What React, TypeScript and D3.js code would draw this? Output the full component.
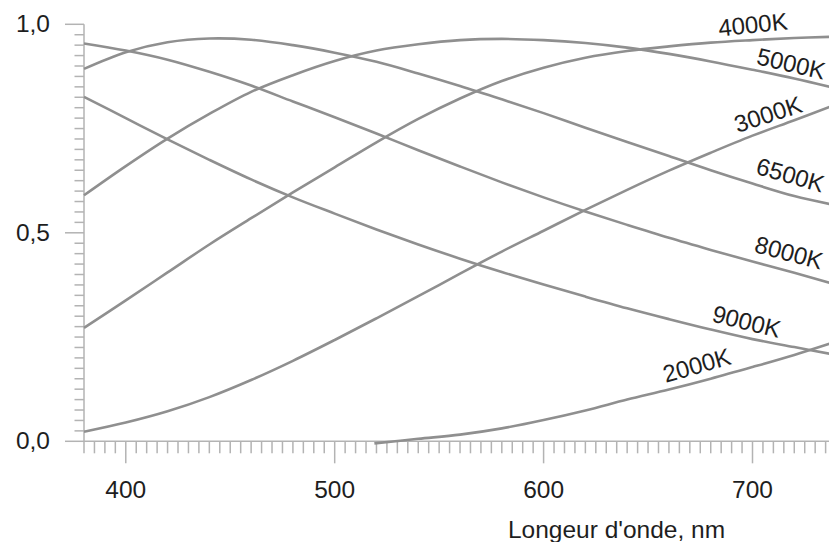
import React from "react";
import * as d3 from "d3";

// ---- data ----
const wavelengths = [380, 400, 420, 440, 460, 480, 500, 520, 540, 560, 580, 600, 620, 640, 660, 680, 700, 720, 737];
const k3000 = [0.023, 0.045, 0.072, 0.106, 0.147, 0.193, 0.243, 0.295, 0.348, 0.402, 0.455, 0.505, 0.555, 0.603, 0.649, 0.692, 0.733, 0.770, 0.802];
const k4000 = [0.272, 0.338, 0.405, 0.472, 0.535, 0.597, 0.657, 0.717, 0.773, 0.822, 0.864, 0.896, 0.920, 0.936, 0.947, 0.956, 0.962, 0.967, 0.970];
const k5000 = [0.590, 0.660, 0.726, 0.785, 0.838, 0.878, 0.912, 0.937, 0.952, 0.962, 0.965, 0.962, 0.955, 0.944, 0.929, 0.911, 0.891, 0.870, 0.850];
const k6500 = [0.893, 0.933, 0.957, 0.966, 0.963, 0.950, 0.932, 0.910, 0.882, 0.852, 0.820, 0.787, 0.752, 0.718, 0.684, 0.650, 0.618, 0.588, 0.569];
const k8000 = [0.954, 0.937, 0.915, 0.886, 0.853, 0.815, 0.777, 0.738, 0.698, 0.659, 0.621, 0.585, 0.551, 0.519, 0.488, 0.459, 0.431, 0.404, 0.380];
const k9000 = [0.826, 0.775, 0.724, 0.675, 0.628, 0.585, 0.546, 0.508, 0.472, 0.438, 0.406, 0.376, 0.347, 0.319, 0.293, 0.268, 0.245, 0.226, 0.210];
const wavelengths2000 = [519, 540, 560, 580, 600, 620, 640, 660, 680, 700, 720, 737];
const k2000 = [-0.005, 0.006, 0.016, 0.031, 0.051, 0.074, 0.100, 0.124, 0.150, 0.178, 0.207, 0.234];

const seriesNames = ["2000K", "3000K", "4000K", "5000K", "6500K", "8000K", "9000K"];
// label anchor (wavelength, value) and rotation for each series name
const labelNm = [673.3, 707.4, 700.2, 718.6, 718.2, 717.5, 697.2];
const labelVal = [0.183, 0.785, 1.0, 0.906, 0.639, 0.453, 0.288];
const labelAngle = [-16, -18, -6, 13, 16, 15, 14];

const xMajorTicks = [400, 500, 600, 700];
const yMajorTicks = [0, 0.5, 1.0];
const yTickLabels = ["0,0", "0,5", "1,0"];
const xTitle = "Longeur d'onde, nm";

// ---- layout ----
const W = 829;
const H = 542;

export default function App() {
  const x = d3.scaleLinear().domain([380, 700]).range([84, 752.5]);
  const y = d3.scaleLinear().domain([0, 1]).range([441.3, 24.3]);

  const line = d3
    .line<[number, number]>()
    .x((d) => x(d[0]))
    .y((d) => y(d[1]))
    .curve(d3.curveCatmullRom.alpha(0.5));

  const series: [number, number][][] = [
    wavelengths2000.map((w, i) => [w, k2000[i]] as [number, number]),
    ...[k3000, k4000, k5000, k6500, k8000, k9000].map((vals) =>
      wavelengths.map((w, i) => [w, vals[i]] as [number, number])
    ),
  ];

  const xMinor = d3.range(380, 741, 5).filter((v) => !xMajorTicks.includes(v));
  const yMinor = d3.range(1, 40).map((i) => i * 0.025).filter((v) => Math.abs(v - 0.5) > 1e-6);

  const axisColor = "#b3b3b3";
  const curveColor = "#8f8f8f";
  const font = "'Liberation Sans', Arial, Helvetica, sans-serif";
  const textColor = "#1e1e1e";
  const y0 = y(0);
  const x0 = x(380);

  return (
    <svg
      width={W}
      height={H}
      viewBox={`0 0 ${W} ${H}`}
      style={{ position: "absolute", left: 0, top: 0, display: "block", background: "#fff" }}
    >
      <rect x={0} y={0} width={W} height={H} fill="#fff" />
      {/* axes */}
      <g stroke={axisColor} strokeWidth={1.5} fill="none">
        <line x1={x0} y1={y(1)} x2={x0} y2={y0} />
        <line x1={x0} y1={y0} x2={W} y2={y0} />
        {yMajorTicks.map((v) => (
          <line key={"ym" + v} x1={x0 - 19} x2={x0} y1={y(v)} y2={y(v)} />
        ))}
        {yMinor.map((v) => (
          <line key={"yn" + v} x1={x0 - 9.5} x2={x0} y1={y(v)} y2={y(v)} />
        ))}
        {xMajorTicks.map((v) => (
          <line key={"xm" + v} x1={x(v)} x2={x(v)} y1={y0} y2={y0 + 22} />
        ))}
        {xMinor.map((v) => (
          <line key={"xn" + v} x1={x(v)} x2={x(v)} y1={y0} y2={y0 + 12} />
        ))}
      </g>
      {/* curves */}
      <g stroke={curveColor} strokeWidth={2.6} fill="none">
        {series.map((s, i) => (
          <path key={seriesNames[i]} d={line(s) || ""} />
        ))}
      </g>
      {/* tick labels */}
      <g fontFamily={font} fontSize={24.5} fill={textColor}>
        {xMajorTicks.map((v) => (
          <text key={"xl" + v} x={x(v)} y={498} textAnchor="middle">
            {v}
          </text>
        ))}
        {yMajorTicks.map((v, i) => (
          <text key={"yl" + v} x={50} y={y(v) + 8} textAnchor="end">
            {yTickLabels[i]}
          </text>
        ))}
        <text x={616.5} y={538} textAnchor="middle">
          {xTitle}
        </text>
      </g>
      {/* series labels */}
      <g fontFamily={font} fontSize={24} fill={textColor}>
        {seriesNames.map((n, i) => {
          const cx = x(labelNm[i]);
          const cy = y(labelVal[i]);
          return (
            <text
              key={"lab" + n}
              x={cx}
              y={cy}
              dy="0.36em"
              textAnchor="middle"
              transform={`rotate(${labelAngle[i]} ${cx} ${cy})`}
            >
              {n}
            </text>
          );
        })}
      </g>
    </svg>
  );
}
